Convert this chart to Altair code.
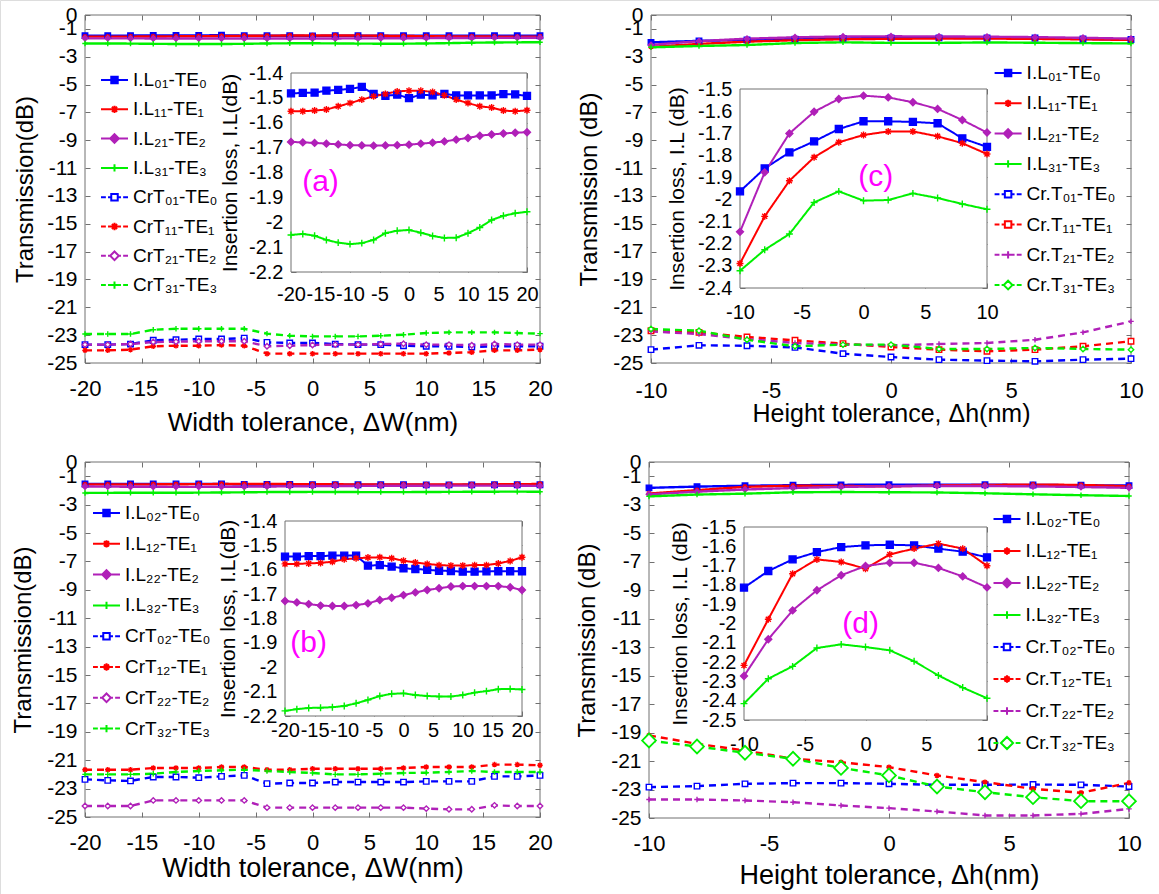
import altair as alt
import pandas as pd

FONT = "Liberation Sans"

# ---------------- data ----------------
W = [-20, -18, -16, -14, -12, -10, -8, -6, -4, -2, 0, 2, 4, 6, 8, 10, 12, 14, 16, 18, 20]
H = [-10, -8, -6, -4, -2, 0, 2, 4, 6, 8, 10]

# panel (a): width tolerance, first set
A_NAMES = ["I.L₀₁-TE₀", "I.L₁₁-TE₁", "I.L₂₁-TE₂", "I.L₃₁-TE₃",
           "CrT₀₁-TE₀", "CrT₁₁-TE₁", "CrT₂₁-TE₂", "CrT₃₁-TE₃"]
A_IL0 = [-1.482, -1.480, -1.479, -1.471, -1.468, -1.464, -1.456, -1.484, -1.492, -1.487, -1.501,
         -1.487, -1.490, -1.484, -1.490, -1.490, -1.490, -1.490, -1.485, -1.486, -1.492]
A_IL1 = [-1.554, -1.554, -1.551, -1.547, -1.534, -1.521, -1.507, -1.494, -1.484, -1.474, -1.471,
         -1.471, -1.476, -1.490, -1.507, -1.521, -1.534, -1.539, -1.551, -1.554, -1.550]
A_IL2 = [-1.677, -1.679, -1.681, -1.684, -1.687, -1.690, -1.691, -1.692, -1.691, -1.690, -1.688,
         -1.684, -1.680, -1.675, -1.668, -1.661, -1.652, -1.647, -1.643, -1.640, -1.638]
A_IL3 = [-2.051, -2.047, -2.054, -2.071, -2.082, -2.088, -2.084, -2.071, -2.044, -2.034, -2.031,
         -2.042, -2.055, -2.063, -2.062, -2.044, -2.021, -1.991, -1.974, -1.964, -1.958]
A_CR0 = [-23.68, -23.68, -23.64, -23.37, -23.33, -23.28, -23.28, -23.21, -23.52, -23.56, -23.56,
         -23.64, -23.68, -23.68, -23.76, -23.80, -23.80, -23.85, -23.80, -23.80, -23.80]
A_CR1 = [-24.09, -24.09, -24.04, -23.80, -23.76, -23.76, -23.71, -23.76, -24.33, -24.33, -24.33,
         -24.33, -24.33, -24.33, -24.33, -24.33, -24.28, -24.23, -24.09, -24.09, -24.04]
A_CR2 = [-23.68, -23.68, -23.64, -23.49, -23.47, -23.44, -23.44, -23.44, -23.80, -23.76, -23.71,
         -23.68, -23.68, -23.64, -23.61, -23.68, -23.68, -23.73, -23.64, -23.68, -23.68]
A_CR3 = [-22.92, -22.92, -22.92, -22.61, -22.54, -22.54, -22.54, -22.54, -22.89, -23.04, -23.09,
         -23.09, -23.09, -23.04, -22.97, -22.85, -22.80, -22.80, -22.80, -22.85, -22.89]

# panel (b): width tolerance, second set
B_NAMES = ["I.L₀₂-TE₀", "I.L₁₂-TE₁", "I.L₂₂-TE₂", "I.L₃₂-TE₃",
           "CrT₀₂-TE₀", "CrT₁₂-TE₁", "CrT₂₂-TE₂", "CrT₃₂-TE₃"]
B_IL0 = [-1.546, -1.546, -1.544, -1.544, -1.542, -1.542, -1.542, -1.583, -1.581, -1.587, -1.594,
         -1.597, -1.600, -1.604, -1.605, -1.608, -1.608, -1.607, -1.606, -1.606, -1.606]
B_IL1 = [-1.576, -1.576, -1.574, -1.572, -1.567, -1.557, -1.553, -1.550, -1.549, -1.553, -1.563,
         -1.570, -1.576, -1.581, -1.583, -1.583, -1.581, -1.581, -1.574, -1.564, -1.549]
B_IL2 = [-1.728, -1.734, -1.741, -1.747, -1.749, -1.749, -1.745, -1.738, -1.724, -1.715, -1.704,
         -1.693, -1.683, -1.676, -1.669, -1.667, -1.667, -1.667, -1.667, -1.672, -1.683]
B_IL3 = [-2.179, -2.172, -2.167, -2.166, -2.164, -2.159, -2.148, -2.134, -2.118, -2.109, -2.107,
         -2.114, -2.118, -2.120, -2.120, -2.114, -2.104, -2.098, -2.090, -2.089, -2.091]
B_CR0 = [-22.35, -22.42, -22.46, -22.18, -22.18, -22.23, -22.14, -22.07, -22.65, -22.61, -22.61,
         -22.54, -22.54, -22.54, -22.54, -22.49, -22.49, -22.49, -22.14, -22.14, -22.07]
B_CR1 = [-21.67, -21.67, -21.67, -21.55, -21.55, -21.55, -21.48, -21.48, -21.67, -21.67, -21.60,
         -21.60, -21.60, -21.60, -21.55, -21.48, -21.48, -21.48, -21.31, -21.31, -21.36]
B_CR2 = [-24.23, -24.23, -24.23, -23.83, -23.83, -23.83, -23.83, -23.83, -24.34, -24.34, -24.34,
         -24.34, -24.34, -24.34, -24.34, -24.41, -24.46, -24.46, -24.18, -24.23, -24.23]
B_CR3 = [-22.00, -22.00, -22.00, -21.95, -21.83, -21.76, -21.71, -21.67, -21.76, -21.83, -21.90,
         -22.00, -22.00, -21.95, -21.90, -21.88, -21.83, -21.76, -21.83, -21.83, -21.83]

# panel (c): height tolerance, first set
C_NAMES = ["I.L₀₁-TE₀", "I.L₁₁-TE₁", "I.L₂₁-TE₂", "I.L₃₁-TE₃",
           "Cr.T₀₁-TE₀", "Cr.T₁₁-TE₁", "Cr.T₂₁-TE₂", "Cr.T₃₁-TE₃"]
C_IL0 = [-1.963, -1.859, -1.787, -1.737, -1.681, -1.646, -1.646, -1.649, -1.655, -1.723, -1.762]
C_IL1 = [-2.289, -2.076, -1.915, -1.809, -1.741, -1.708, -1.692, -1.692, -1.714, -1.745, -1.794]
C_IL2 = [-2.146, -1.877, -1.701, -1.603, -1.545, -1.530, -1.538, -1.560, -1.590, -1.640, -1.697]
C_IL3 = [-2.322, -2.227, -2.156, -2.013, -1.963, -2.005, -2.002, -1.972, -1.993, -2.020, -2.044]
C_CR0 = [-24.04, -23.73, -23.76, -23.88, -24.33, -24.57, -24.76, -24.83, -24.88, -24.76, -24.69]
C_CR1 = [-22.68, -22.80, -23.13, -23.37, -23.61, -23.85, -24.04, -24.16, -24.04, -23.80, -23.44]
C_CR2 = [-22.73, -22.92, -23.28, -23.56, -23.68, -23.73, -23.64, -23.56, -23.33, -22.80, -22.01]
C_CR3 = [-22.56, -22.68, -23.33, -23.80, -23.68, -23.68, -23.99, -23.99, -23.92, -23.99, -24.04]

# panel (d): height tolerance, second set
D_NAMES = ["I.L₀₂-TE₀", "I.L₁₂-TE₁", "I.L₂₂-TE₂", "I.L₃₂-TE₃",
           "Cr.T₀₂-TE₀", "Cr.T₁₂-TE₁", "Cr.T₂₂-TE₂", "Cr.T₃₂-TE₃"]
D_IL0 = [-1.814, -1.728, -1.668, -1.630, -1.604, -1.595, -1.592, -1.595, -1.612, -1.628, -1.657]
D_IL1 = [-2.217, -1.978, -1.742, -1.668, -1.681, -1.716, -1.642, -1.612, -1.586, -1.612, -1.701]
D_IL2 = [-2.272, -2.082, -1.932, -1.828, -1.750, -1.702, -1.685, -1.685, -1.712, -1.756, -1.813]
D_IL3 = [-2.415, -2.286, -2.222, -2.127, -2.108, -2.122, -2.139, -2.196, -2.269, -2.332, -2.387]
D_CR0 = [-22.83, -22.76, -22.60, -22.55, -22.55, -22.60, -22.67, -22.67, -22.65, -22.67, -22.79]
D_CR1 = [-19.20, -19.79, -20.26, -20.84, -21.08, -21.43, -22.01, -22.48, -22.95, -23.23, -22.53]
D_CR2 = [-23.70, -23.70, -23.77, -23.89, -24.12, -24.31, -24.54, -24.82, -24.82, -24.71, -24.36]
D_CR3 = [-19.56, -19.98, -20.42, -20.84, -21.48, -22.01, -22.79, -23.19, -23.54, -23.82, -23.82]

W_TICKS = [-20, -15, -10, -5, 0, 5, 10, 15, 20]
H_TICKS = [-10, -5, 0, 5, 10]
MAIN_Y_TICKS = [0, -1, -3, -5, -7, -9, -11, -13, -15, -17, -19, -21, -23, -25]
IL_TICKS_AB = [-1.4, -1.5, -1.6, -1.7, -1.8, -1.9, -2.0, -2.1, -2.2]
IL_TICKS_C = [-1.5, -1.6, -1.7, -1.8, -1.9, -2.0, -2.1, -2.2, -2.3, -2.4]
IL_TICKS_D = [-1.5, -1.6, -1.7, -1.8, -1.9, -2.0, -2.1, -2.2, -2.3, -2.4, -2.5]

# ---------------- styles ----------------
BLUE, RED, PURPLE, GREEN = "#0000FF", "#FF0000", "#B020B8", "#00F000"
COLORS = [BLUE, RED, PURPLE, GREEN] * 2
DASHES = [[1, 0]] * 4 + [[7, 5]] * 4
MAGENTA = "#FF00FF"
FRAME = "#707070"
CANVAS_W, CANVAS_H = 1159, 894

PLUS = "M-1,0H1M0,-1V1"
AST = "M-1,0H1M0,-1V1M-0.72,-0.72L0.72,0.72M-0.72,0.72L0.72,-0.72"

MARK_SQ = "M-0.24,-0.24H0.24V0.24H-0.24Z"
MARK_DI = "M0,-0.32L0.32,0L0,0.32L-0.32,0Z"
MARK_BIGDI = "M0,-0.45L0.45,0L0,0.45L-0.45,0Z"
MARK_PLUS = "M-0.27,0H0.27M0,-0.27V0.27"
MARK_AST = "M-0.27,0H0.27M0,-0.27V0.27M-0.19,-0.19L0.19,0.19M-0.19,0.19L0.19,-0.19"


def plot_shape(code):
    return {"sqf": "square", "sqo": "square", "dif": "diamond", "dio": "diamond",
            "bigdio": "diamond", "ast": AST, "plus": PLUS}[code]


def fill_of(code, color):
    if code in ("sqf", "dif"):
        return color
    if code in ("sqo", "dio", "bigdio"):
        return "white"
    return "transparent"


def legend_path(code, dashed):
    hole = code not in ("ast", "plus")
    half = 0.45 if code == "bigdio" else 0.26
    if dashed:
        line = "M-1,0H-0.64M-0.48,0H-%sM%s,0H0.48M0.64,0H1" % (half, half)
    elif hole:
        line = "M-1,0H-%sM%s,0H1" % (half, half)
    else:
        line = "M-1,0H1"
    mark = {"sqf": MARK_SQ, "sqo": MARK_SQ, "dif": MARK_DI, "dio": MARK_DI,
            "bigdio": MARK_BIGDI, "ast": MARK_AST, "plus": MARK_PLUS}[code]
    return line + mark


LABEL_EXPR = "(datum.value < 0 ? '-' : '') + format(abs(datum.value), '')"


def x_axis(axis_y, values, lfs, lpad, title="", tfs=24, title_y=50):
    kw = dict(orient="bottom", offset=axis_y - CANVAS_H, values=values, labelExpr=LABEL_EXPR,
              labelFontSize=lfs, labelPadding=lpad, labelFont=FONT, labelColor="black",
              labelBaseline="middle", ticks=False, tickSize=0, domain=False, grid=False,
              labelFlush=False, labelOverlap=False, title=title)
    if title:
        kw.update(titleFontSize=tfs, titleFont=FONT, titleFontWeight="normal", titleColor="black",
                  titleBaseline="middle", titleY=title_y, titleAngle=0)
    return alt.Axis(**kw)


def y_axis(axis_x, values, lfs, title, tfs, title_x):
    return alt.Axis(orient="left", offset=-axis_x, values=values, labelExpr=LABEL_EXPR,
                    labelFontSize=lfs, labelPadding=8, labelFont=FONT, labelColor="black",
                    ticks=False, tickSize=0, domain=False, grid=False, labelOverlap=False,
                    labelFlush=False, title=title, titleFontSize=tfs, titleFont=FONT,
                    titleFontWeight="normal", titleColor="black", titleBaseline="middle",
                    titleAngle=270, titleX=title_x)


def tick_axis(orient, offset, values):
    return alt.Axis(orient=orient, offset=offset, values=values, labels=False, ticks=True,
                    tickSize=5, tickColor=FRAME, tickWidth=1, domain=False, grid=False, title="")


def long_df(xs, names, arrays):
    rows = []
    for n, arr in zip(names, arrays):
        for xv, yv in zip(xs, arr):
            rows.append({"x": xv, "y": yv, "s": n})
    return pd.DataFrame(rows)


def tick_groups(df, xdom, ydom, xr, yr, xticks, yticks):
    """Inward-pointing ticks on all four sides of a frame."""
    left, right = xr
    bottom, top = yr
    out = []
    for xo, xoff, yo, yoff in (("top", -bottom, "right", left - CANVAS_W),
                               ("bottom", top - CANVAS_H, "left", -right)):
        X = alt.X("x:Q", scale=alt.Scale(domain=xdom, range=xr, nice=False, zero=False),
                  axis=tick_axis(xo, xoff, xticks))
        Y = alt.Y("y:Q", scale=alt.Scale(domain=ydom, range=yr, nice=False, zero=False),
                  axis=tick_axis(yo, yoff, yticks))
        out.append(alt.Chart(df).transform_filter("false").mark_point().encode(x=X, y=Y))
    return out


def group(df, names, codes, xs_dom, ys_dom, X, Y, frame_fill, msize, lwidth,
          legend=None, big=None, letter=None):
    colors = COLORS[:len(names)]
    dashes = DASHES[:len(names)]
    shapes = [plot_shape(c) for c in codes]
    fills = [fill_of(c, col) for c, col in zip(codes, colors)]
    frame_df = pd.DataFrame({"x": [xs_dom[0]], "x2": [xs_dom[1]], "y": [ys_dom[0]], "y2": [ys_dom[1]]})
    frame = alt.Chart(frame_df).mark_rect(fill=frame_fill, stroke=FRAME, strokeWidth=1).encode(
        x=X, x2="x2:Q", y=Y, y2="y2:Q")
    lines = alt.Chart(df).mark_line(strokeWidth=lwidth).encode(
        x=X, y=Y,
        stroke=alt.Stroke("s:N", scale=alt.Scale(domain=names, range=colors), legend=None),
        strokeDash=alt.StrokeDash("s:N", scale=alt.Scale(domain=names, range=dashes), legend=None))
    enc = dict(
        x=X, y=Y,
        stroke=alt.Stroke("s:N", scale=alt.Scale(domain=names, range=colors), legend=None),
        fill=alt.Fill("s:N", scale=alt.Scale(domain=names, range=fills), legend=None),
        shape=alt.Shape("s:N", scale=alt.Scale(domain=names, range=shapes), legend=None))
    big = big or []
    small_names = [n for n in names if n not in big]
    pts = alt.Chart(df).transform_filter(
        alt.FieldOneOfPredicate(field="s", oneOf=small_names)).mark_point(
        opacity=1, size=msize, strokeWidth=1.4).encode(**enc)
    layers = [frame, lines, pts]
    if big:
        pts_big = alt.Chart(df).transform_filter(
            alt.FieldOneOfPredicate(field="s", oneOf=big)).mark_point(
            opacity=1, size=190, strokeWidth=1.8).encode(**enc)
        layers.append(pts_big)
    if legend is not None:
        lx, ly, rp = legend
        paths = [legend_path(c, i >= 4) for i, c in enumerate(codes)]
        lg = alt.Legend(title=None, orient="none", legendX=lx, legendY=ly, rowPadding=rp,
                        padding=0, labelFont=FONT, labelFontSize=19, labelColor="black",
                        symbolSize=729, symbolStrokeWidth=2, symbolOpacity=1, labelLimit=300,
                        labelOffset=4)
        leg = alt.Chart(df).transform_filter("false").mark_point(opacity=1, strokeWidth=2).encode(
            x=X, y=Y,
            stroke=alt.Stroke("s:N", scale=alt.Scale(domain=names, range=colors), legend=lg),
            fill=alt.Fill("s:N", scale=alt.Scale(domain=names, range=fills), legend=lg),
            shape=alt.Shape("s:N", scale=alt.Scale(domain=names, range=paths), legend=lg))
        layers.append(leg)
    if letter is not None:
        tx, ty, tt = letter
        txt = alt.Chart(pd.DataFrame({"x": [tx], "y": [ty], "t": [tt]})).mark_text(
            font=FONT, fontSize=30, color=MAGENTA).encode(x=X, y=Y, text="t:N")
        layers.append(txt)
    return alt.layer(*layers).resolve_scale(
        stroke="independent", fill="independent", shape="independent", strokeDash="independent")


def panel(xs, names, il, cr, codes, cfg):
    # main plot
    xm = alt.X("x:Q", scale=alt.Scale(domain=cfg["xdom"], range=cfg["mx"], nice=False, zero=False),
               axis=x_axis(cfg["mx_axis_y"], cfg["xticks"], 22, cfg["mx_lpad"], cfg["xtitle"],
                           cfg["xtitle_fs"], cfg["xtitle_y"]))
    ym = alt.Y("y:Q", scale=alt.Scale(domain=[-25, 0], range=cfg["my"], nice=False, zero=False),
               axis=y_axis(cfg["mx"][0], MAIN_Y_TICKS, 21, cfg["ytitle"], 24, cfg["ytitle_x"]))
    main_df = long_df(xs, names, il + cr)
    g_main = group(main_df, names, codes, cfg["xdom"], [-25, 0], xm, ym, "transparent", 30, 2.4,
                   legend=cfg["legend"], big=cfg.get("big"))
    main_ticks = tick_groups(main_df, cfg["xdom"], [-25, 0], cfg["mx"], cfg["my"],
                             cfg["xticks"], MAIN_Y_TICKS)
    # inset
    xi = alt.X("x:Q", scale=alt.Scale(domain=cfg["xdom"], range=cfg["ix"], nice=False, zero=False),
               axis=x_axis(cfg["ix_axis_y"], cfg["xticks"], 20, cfg["ix_lpad"]))
    yi = alt.Y("y:Q", scale=alt.Scale(domain=cfg["idom"], range=cfg["iy"], nice=False, zero=False),
               axis=y_axis(cfg["ix"][0], cfg["iticks"], 20, cfg["ititle"], 21, cfg["ititle_x"]))
    in_df = long_df(xs, names[:4], il)
    g_in = group(in_df, names[:4], codes[:4], cfg["xdom"], cfg["idom"], xi, yi, "white", 48, 2.0,
                 letter=cfg["letter"])
    in_ticks = tick_groups(in_df, cfg["xdom"], cfg["idom"], cfg["ix"], cfg["iy"],
                           cfg["xticks"], cfg["iticks"])
    return [g_main] + main_ticks + [g_in] + in_ticks


CFG_A = dict(xdom=[-20, 20], xticks=W_TICKS, mx=[85, 540], my=[363, 15], mx_axis_y=363, mx_lpad=25,
             xtitle="Width tolerance, ΔW(nm)", xtitle_fs=26, xtitle_y=59,
             ytitle="Transmission(dB)", ytitle_x=-60,
             ix=[291, 527], iy=[272, 73], ix_axis_y=272, ix_lpad=22, idom=[-2.2, -1.4],
             iticks=IL_TICKS_AB, ititle="Insertion loss, I.L(dB)", ititle_x=-61,
             letter=(-15, -1.84, "(a)"), legend=(100, 65.5, 4.3))
CFG_C = dict(xdom=[-10, 10], xticks=H_TICKS, mx=[651, 1131], my=[363, 15], mx_axis_y=363, mx_lpad=27,
             xtitle="Height tolerance,  Δh(nm)", xtitle_fs=25, xtitle_y=50,
             ytitle="Transmission (dB)", ytitle_x=-62,
             ix=[740, 987], iy=[288, 89], ix_axis_y=288, ix_lpad=24, idom=[-2.4, -1.5],
             iticks=IL_TICKS_C, ititle="Insertion loss, I.L (dB)", ititle_x=-63,
             letter=(1, -1.9, "(c)"), legend=(993.6, 58.5, 5.3))
CFG_B = dict(xdom=[-20, 20], xticks=W_TICKS, mx=[85, 540], my=[817, 462], mx_axis_y=817, mx_lpad=25,
             xtitle="Width tolerance, ΔW(nm)", xtitle_fs=27, xtitle_y=51,
             ytitle="Transmission(dB)", ytitle_x=-61.5,
             ix=[285, 522], iy=[716, 521], ix_axis_y=716, ix_lpad=14, idom=[-2.2, -1.4],
             iticks=IL_TICKS_AB, ititle="Insertion loss, I.L(dB)", ititle_x=-57,
             letter=(-16, -1.9, "(b)"), legend=(92, 498.5, 5.8))
CFG_D = dict(xdom=[-10, 10], xticks=H_TICKS, mx=[649, 1129], my=[818, 462], mx_axis_y=818, mx_lpad=25,
             xtitle="Height tolerance, Δh(nm)", xtitle_fs=27, xtitle_y=57,
             ytitle="Transmission (dB)", ytitle_x=-61.5,
             ix=[744, 987], iy=[720, 527], ix_axis_y=720, ix_lpad=24, idom=[-2.5, -1.5],
             iticks=IL_TICKS_D, ititle="Insertion loss, I.L (dB)", ititle_x=-63.4,
             letter=(-0.4, -2.0, "(d)"), legend=(992.5, 504.5, 7), big=[D_NAMES[7]])

layers = []
layers += panel(W, A_NAMES, [A_IL0, A_IL1, A_IL2, A_IL3], [A_CR0, A_CR1, A_CR2, A_CR3],
                ["sqf", "ast", "dif", "plus", "sqo", "ast", "dio", "plus"], CFG_A)
layers += panel(H, C_NAMES, [C_IL0, C_IL1, C_IL2, C_IL3], [C_CR0, C_CR1, C_CR2, C_CR3],
                ["sqf", "ast", "dif", "plus", "sqo", "sqo", "plus", "dio"], CFG_C)
layers += panel(W, B_NAMES, [B_IL0, B_IL1, B_IL2, B_IL3], [B_CR0, B_CR1, B_CR2, B_CR3],
                ["sqf", "ast", "dif", "plus", "sqo", "ast", "dio", "plus"], CFG_B)
layers += panel(H, D_NAMES, [D_IL0, D_IL1, D_IL2, D_IL3], [D_CR0, D_CR1, D_CR2, D_CR3],
                ["sqf", "ast", "dif", "plus", "sqo", "ast", "plus", "bigdio"], CFG_D)

chart = alt.layer(*layers).resolve_scale(
    x="independent", y="independent", stroke="independent", fill="independent",
    shape="independent", strokeDash="independent"
).properties(
    width=CANVAS_W, height=CANVAS_H, padding=0, autosize=alt.AutoSizeParams(type="none")
).configure_view(stroke=None).configure(font=FONT, background="white")

chart.save("out.html", embed_options={"renderer": "svg", "actions": False})
